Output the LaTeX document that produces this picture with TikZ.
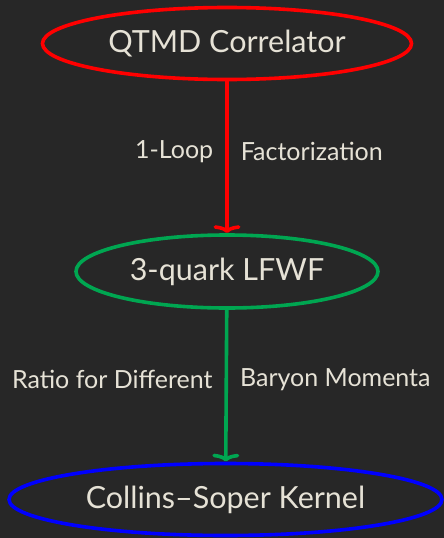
\documentclass[tikz,border=0pt]{standalone}
\usepackage{fontspec}
\setmainfont{Lato}
\usetikzlibrary{shapes.geometric, arrows.meta}

\definecolor{bgdark}{HTML}{272727}
\definecolor{txtlight}{HTML}{E6E2D6}
\definecolor{linkgreen}{HTML}{00A651}

\tikzset{
  stage/.style={ellipse, line width=3.6pt, inner sep=0pt, text=txtlight,
    font=\fontsize{30.5}{36}\selectfont},
  flow/.style={line width=3.6pt, -{To[length=8pt, width=27pt]}},
  steplabel/.style={text=txtlight, font=\fontsize{25}{30}\selectfont, inner sep=12pt}
}

\begin{document}
\begin{tikzpicture}[x=1pt, y=-1pt]
    % Background
    \fill[bgdark] (0,0) rectangle (444,538);
    \useasboundingbox (0,0) rectangle (444,538);

    % Stages
    \node[stage, draw=red, minimum width=369pt, minimum height=72pt] (qtmd) at (227,43.5) {QTMD Correlator};
    \node[stage, draw=linkgreen, minimum width=302pt, minimum height=73pt] (lfwf) at (227,271.5) {3-quark LFWF};
    \node[stage, draw=blue, minimum width=433pt, minimum height=72pt] (cskernel) at (225.5,499.5) {Collins--Soper Kernel};

    % Steps
    \draw[flow, red] (qtmd) -- node[steplabel, left, pos=0.46] {1-Loop}
        node[steplabel, right, pos=0.46] {Factorization} (lfwf);
    \draw[flow, linkgreen] (lfwf) -- node[steplabel, left, pos=0.46] {Ratio for Different}
        node[steplabel, right, pos=0.46] {Baryon Momenta} (cskernel);
\end{tikzpicture}
\end{document}
